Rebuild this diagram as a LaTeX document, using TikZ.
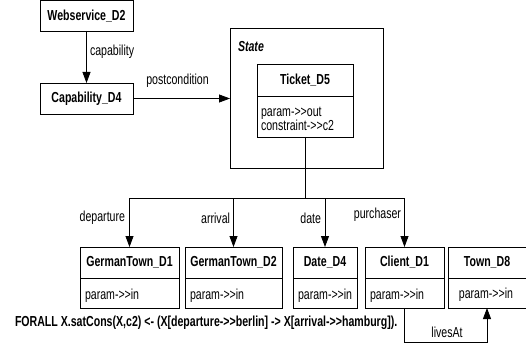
\documentclass[tikz,border=0pt]{standalone}
\usepackage{fontspec}
\newfontfamily\narrowsans{Liberation Sans}[FakeStretch=0.73]
\usetikzlibrary{arrows.meta}
\begin{document}
\begin{tikzpicture}[x=1pt,y=-1pt,
  every node/.style={inner sep=0pt, outer sep=0pt},
  lab/.style={font=\narrowsans\fontsize{14.5}{15}\selectfont},
  ttl/.style={font=\narrowsans\fontsize{14.5}{15}\selectfont\bfseries},
  box/.style={draw, line width=0.8pt},
  arr/.style={-{Triangle[length=11pt,width=8pt]}, line width=0.8pt},
  ln/.style={line width=0.8pt}]
\useasboundingbox (0,0) rectangle (526,352);
% top boxes
\node[box, ttl, minimum width=93pt, minimum height=30.5pt] (ws) at (86.5,15.75) {Webservice\_D2};
\node[box, ttl, minimum width=93pt, minimum height=31pt] (cap) at (86.5,98.5) {Capability\_D4};
% state
\node[box, minimum width=153pt, minimum height=140pt] (state) at (306.5,98) {};
\node[anchor=west, font=\narrowsans\fontsize{14.5}{15}\selectfont\bfseries\itshape] (statelab) at (238,47) {State};
\node[box, ttl, minimum width=96pt, minimum height=32pt] (th) at (305,80) {Ticket\_D5};
\node[box, minimum width=96pt, minimum height=41pt] (tb) at (305,116.5) {};
\node[anchor=west, align=left, font=\narrowsans\fontsize{14.5}{14}\selectfont] (tbt) at (261,119) {param->>out\\constraint->>c2};
% bottom boxes
\node[box, ttl, minimum width=99pt, minimum height=31pt] (g1h) at (129.5,262.5) {GermanTown\_D1};
\node[box, minimum width=99pt, minimum height=30pt] (g1b) at (129.5,293) {};
\node[lab, anchor=west] (g1t) at (85,296) {param->>in};
\node[box, ttl, minimum width=97pt, minimum height=31pt] (g2h) at (233.5,262.5) {GermanTown\_D2};
\node[box, minimum width=97pt, minimum height=30pt] (g2b) at (233.5,293) {};
\node[lab, anchor=west] (g2t) at (190,296) {param->>in};
\node[box, ttl, minimum width=64pt, minimum height=31pt] (dh) at (325,262.5) {Date\_D4};
\node[box, minimum width=64pt, minimum height=30pt] (db) at (325,293) {};
\node[lab, anchor=west] (dt) at (298,296) {param->>in};
\node[box, ttl, minimum width=79pt, minimum height=31pt] (ch) at (404.5,262.5) {Client\_D1};
\node[box, minimum width=79pt, minimum height=30pt] (cb) at (404.5,293) {};
\node[lab, anchor=west] (ct) at (370,296) {param->>in};
\node[box, ttl, minimum width=78pt, minimum height=31pt] (toh) at (487,262.5) {Town\_D8};
\node[box, minimum width=78pt, minimum height=30pt] (tob) at (487,293) {};
\node[lab] (tot) at (486,295) {param->>in};
% connectors
\draw[arr] (ws.south) -- (cap.north);
\node[lab, anchor=west] (capl) at (90,52) {capability};
\draw[arr] (cap.east) -- (cap.east -| state.west);
\node[lab] (postl) at (177.5,81) {postcondition};
\coordinate (bus) at (305,198);
\draw[ln] (tb.south) -- (bus);
\draw[arr] (bus) -| (g1h.north);
\draw[arr] (bus) -| (g2h.north);
\draw[arr] (bus) -| (dh.north);
\draw[arr] (bus) -| (ch.north);
\node[lab, anchor=east] (l1) at (125,218) {departure};
\node[lab, anchor=east] (l2) at (230,218) {arrival};
\node[lab, anchor=east] (l3) at (321,218) {date};
\node[lab, anchor=east] (l4) at (401,215) {purchaser};
\coordinate (lv) at (404.5,342);
\draw[arr] (cb.south) -- (lv) -| (tob.south);
\node[lab] (lvl) at (447,332) {livesAt};
\node[ttl, anchor=west] (rule) at (15,323) {FORALL X.satCons(X,c2) <- (X[departure->>berlin] -> X[arrival->>hamburg]).};
\end{tikzpicture}
\end{document}
